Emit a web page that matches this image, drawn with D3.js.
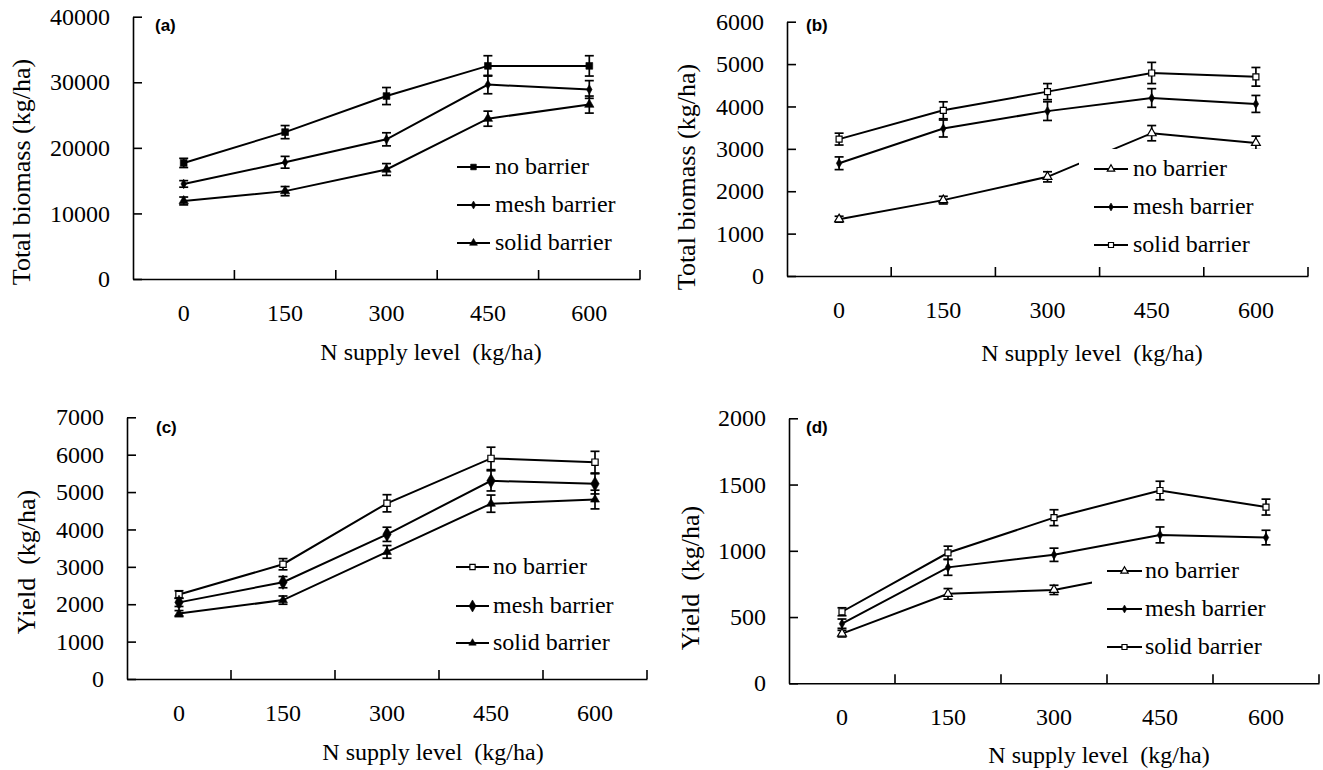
<!DOCTYPE HTML>
<html>
<head>
<meta charset="utf-8">
<title>N supply level</title>
<script src="https://d3js.org/d3.v7.min.js"></script>
<style>
body { margin: 0; background: #ffffff; }
</style>
</head>

<body>
<script>

"use strict";

const SERIF = "'Liberation Serif', 'Times New Roman', serif";
const SANS = "'Liberation Sans', Arial, sans-serif";

const nLevels = ["0", "150", "300", "450", "600"];
const seriesNames = ["no barrier", "mesh barrier", "solid barrier"];

// (a) total biomass
const ticksA = [0, 10000, 20000, 30000, 40000];
const noA = [17700, 22400, 27900, 32500, 32500];
const noErrA = [700, 1000, 1300, 1550, 1550];
const meshA = [14500, 17800, 21300, 29650, 28900];
const meshErrA = [500, 900, 1000, 1400, 1350];
const solidA = [11900, 13400, 16700, 24450, 26600];
const solidErrA = [600, 700, 900, 1150, 1300];

// (b) total biomass
const ticksB = [0, 1000, 2000, 3000, 4000, 5000, 6000];
const noB = [1340, 1790, 2340, 3370, 3140];
const noErrB = [70, 90, 120, 180, 160];
const meshB = [2660, 3480, 3890, 4200, 4060];
const meshErrB = [150, 200, 220, 220, 200];
const solidB = [3230, 3910, 4350, 4790, 4700];
const solidErrB = [140, 200, 190, 250, 220];

// (c) yield
const ticksC = [0, 1000, 2000, 3000, 4000, 5000, 6000, 7000];
const noC = [2260, 3070, 4700, 5900, 5800];
const noErrC = [100, 150, 230, 300, 290];
const meshC = [2050, 2590, 3870, 5300, 5220];
const meshErrC = [110, 150, 190, 270, 270];
const solidC = [1750, 2110, 3400, 4690, 4800];
const solidErrC = [80, 110, 170, 230, 250];

// (d) yield (last two "no barrier" points sit behind the legend)
const ticksD = [0, 500, 1000, 1500, 2000];
const noD = [375, 675, 705, 860, 820];
const noErrD = [25, 40, 35, 40, 40];
const meshD = [450, 875, 970, 1120, 1100];
const meshErrD = [35, 60, 50, 60, 55];
const solidD = [540, 985, 1250, 1455, 1330];
const solidErrD = [30, 50, 60, 70, 60];

const panels = [
  {
    label: "(a)", yTitle: "Total biomass (kg/ha)", ticks: ticksA,
    means: [noA, meshA, solidA], errs: [noErrA, meshErrA, solidErrA],
    marks: [{type: d3.symbolSquare, size: 46, fill: true},
            {type: d3.symbolDiamond, size: 26, fill: true},
            {type: d3.symbolTriangle, size: 38, fill: true}],
    x0: 133, x1: 640, yTop: 16.7, yZero: 279,
    labelPos: [155, 25], yTitlePos: [21, 172], xTitlePos: [431, 352],
    legend: {x0: 457, x1: 490, tx: 495, rows: [167, 205, 243]}
  },
  {
    label: "(b)", yTitle: "Total biomass (kg/ha)", ticks: ticksB,
    means: [noB, meshB, solidB], errs: [noErrB, meshErrB, solidErrB],
    marks: [{type: d3.symbolTriangle, size: 34, fill: false},
            {type: d3.symbolDiamond, size: 26, fill: true},
            {type: d3.symbolSquare, size: 36, fill: false}],
    x0: 787, x1: 1308, yTop: 21.7, yZero: 276,
    labelPos: [806, 25], yTitlePos: [686, 177], xTitlePos: [1092, 353],
    legend: {x0: 1094, x1: 1128, tx: 1133, rows: [169, 207, 245]}
  },
  {
    label: "(c)", yTitle: "Yield  (kg/ha)", ticks: ticksC,
    means: [noC, meshC, solidC], errs: [noErrC, meshErrC, solidErrC],
    marks: [{type: d3.symbolSquare, size: 40, fill: false},
            {type: d3.symbolDiamond, size: 60, fill: true},
            {type: d3.symbolTriangle, size: 34, fill: true}],
    x0: 127, x1: 647, yTop: 417.3, yZero: 679,
    labelPos: [156, 427], yTitlePos: [26, 562], xTitlePos: [433, 752],
    legend: {x0: 456, x1: 489, tx: 493, rows: [567, 606, 643]}
  },
  {
    label: "(d)", yTitle: "Yield  (kg/ha)", ticks: ticksD,
    means: [noD, meshD, solidD], errs: [noErrD, meshErrD, solidErrD],
    marks: [{type: d3.symbolTriangle, size: 34, fill: false},
            {type: d3.symbolDiamond, size: 26, fill: true},
            {type: d3.symbolSquare, size: 36, fill: false}],
    x0: 789, x1: 1319, yTop: 418.3, yZero: 683.3,
    labelPos: [806, 427], yTitlePos: [690, 578], xTitlePos: [1099, 755],
    legend: {x0: 1107, x1: 1142, tx: 1145, rows: [571, 609, 647]}
  }
];

const svg = d3.select("body").append("svg")
  .attr("width", 1323)
  .attr("height", 770);

function drawMark(sel, m) {
  sel.append("path")
    .attr("d", d3.symbol().type(m.type).size(m.size))
    .attr("fill", m.fill ? "#000000" : "#ffffff")
    .attr("stroke", "#000000")
    .attr("stroke-width", m.fill ? 0.6 : 1.2);
}

function serifText(sel, size) {
  return sel.append("text")
    .style("font-family", SERIF)
    .style("font-size", size + "px")
    .style("white-space", "pre")
    .attr("fill", "#000000");
}

for (let p of panels) {
  const x = d3.scaleBand().domain(nLevels).range([p.x0, p.x1]);
  const y = d3.scaleLinear().domain([0, d3.max(p.ticks)]).range([p.yZero, p.yTop]);
  const cx = (d) => x(d) + x.bandwidth() / 2;
  const g = svg.append("g");

  // axes
  g.append("g")
    .attr("transform", "translate(" + p.x0 + ",0)")
    .call(d3.axisLeft(y).tickValues(p.ticks).tickSizeInner(-9).tickSizeOuter(0)
      .tickPadding(23).tickFormat(d3.format("d")));

  g.append("g")
    .attr("transform", "translate(0," + p.yZero + ")")
    .call(d3.axisBottom(x).tickSize(0).tickPadding(25));

  g.append("g").selectAll("line")
    .data(nLevels)
    .join("line")
    .attr("x1", (d) => x(d) + x.bandwidth())
    .attr("x2", (d) => x(d) + x.bandwidth())
    .attr("y1", p.yZero)
    .attr("y2", p.yZero - 9)
    .attr("stroke", "#000000")
    .attr("stroke-width", 1.6);

  g.selectAll(".domain, .tick line").attr("stroke", "#000000").attr("stroke-width", 1.6);
  g.selectAll(".tick text")
    .style("font-family", SERIF)
    .style("font-size", "24px")
    .attr("fill", "#000000");

  // titles
  serifText(g, 26)
    .attr("transform", "translate(" + p.yTitlePos[0] + "," + p.yTitlePos[1] + ") rotate(-90)")
    .attr("text-anchor", "middle")
    .attr("dy", "0.35em")
    .text(p.yTitle);

  serifText(g, 24)
    .attr("x", p.xTitlePos[0])
    .attr("y", p.xTitlePos[1])
    .attr("text-anchor", "middle")
    .attr("dy", "0.35em")
    .text("N supply level  (kg/ha)");

  g.append("text")
    .attr("x", p.labelPos[0])
    .attr("y", p.labelPos[1])
    .attr("dy", "0.36em")
    .style("font-family", SANS)
    .style("font-weight", "bold")
    .style("font-size", "17px")
    .attr("fill", "#000000")
    .text(p.label);

  // series
  const line = d3.line().x((d, i) => cx(nLevels[i])).y((d) => y(d));

  p.means.forEach((vals, s) => {
    const sg = g.append("g");
    sg.append("path")
      .attr("d", line(vals))
      .attr("fill", "none")
      .attr("stroke", "#000000")
      .attr("stroke-width", 2);

    sg.selectAll("g.err")
      .data(vals)
      .join("g")
      .attr("class", "err")
      .each(function (d, i) {
        const e = p.errs[s][i];
        const xc = cx(nLevels[i]);
        const eg = d3.select(this).attr("stroke", "#000000").attr("stroke-width", 1.7);
        eg.append("line").attr("x1", xc).attr("x2", xc).attr("y1", y(d - e)).attr("y2", y(d + e));
        eg.append("line").attr("x1", xc - 4.5).attr("x2", xc + 4.5).attr("y1", y(d - e)).attr("y2", y(d - e));
        eg.append("line").attr("x1", xc - 4.5).attr("x2", xc + 4.5).attr("y1", y(d + e)).attr("y2", y(d + e));
      });

    sg.selectAll("g.pt")
      .data(vals)
      .join("g")
      .attr("class", "pt")
      .attr("transform", (d, i) => "translate(" + cx(nLevels[i]) + "," + y(d) + ")")
      .each(function () { drawMark(d3.select(this), p.marks[s]); });
  });

  // legend with white box
  const lg = p.legend;
  g.append("rect")
    .attr("x", lg.x0 - 15)
    .attr("y", lg.rows[0] - 20)
    .attr("width", 190)
    .attr("height", lg.rows[2] - lg.rows[0] + 38)
    .attr("fill", "#ffffff");

  seriesNames.forEach((name, s) => {
    const row = lg.rows[s];
    g.append("line")
      .attr("x1", lg.x0).attr("x2", lg.x1)
      .attr("y1", row).attr("y2", row)
      .attr("stroke", "#000000")
      .attr("stroke-width", 1.8);
    const mg = g.append("g").attr("transform", "translate(" + (lg.x0 + lg.x1) / 2 + "," + row + ")");
    drawMark(mg, {type: p.marks[s].type, size: p.marks[s].size * 0.7, fill: p.marks[s].fill});
    serifText(g, 24)
      .attr("x", lg.tx)
      .attr("y", row)
      .attr("dy", "0.3em")
      .text(name);
  });
}

</script>
</body>
</html>
